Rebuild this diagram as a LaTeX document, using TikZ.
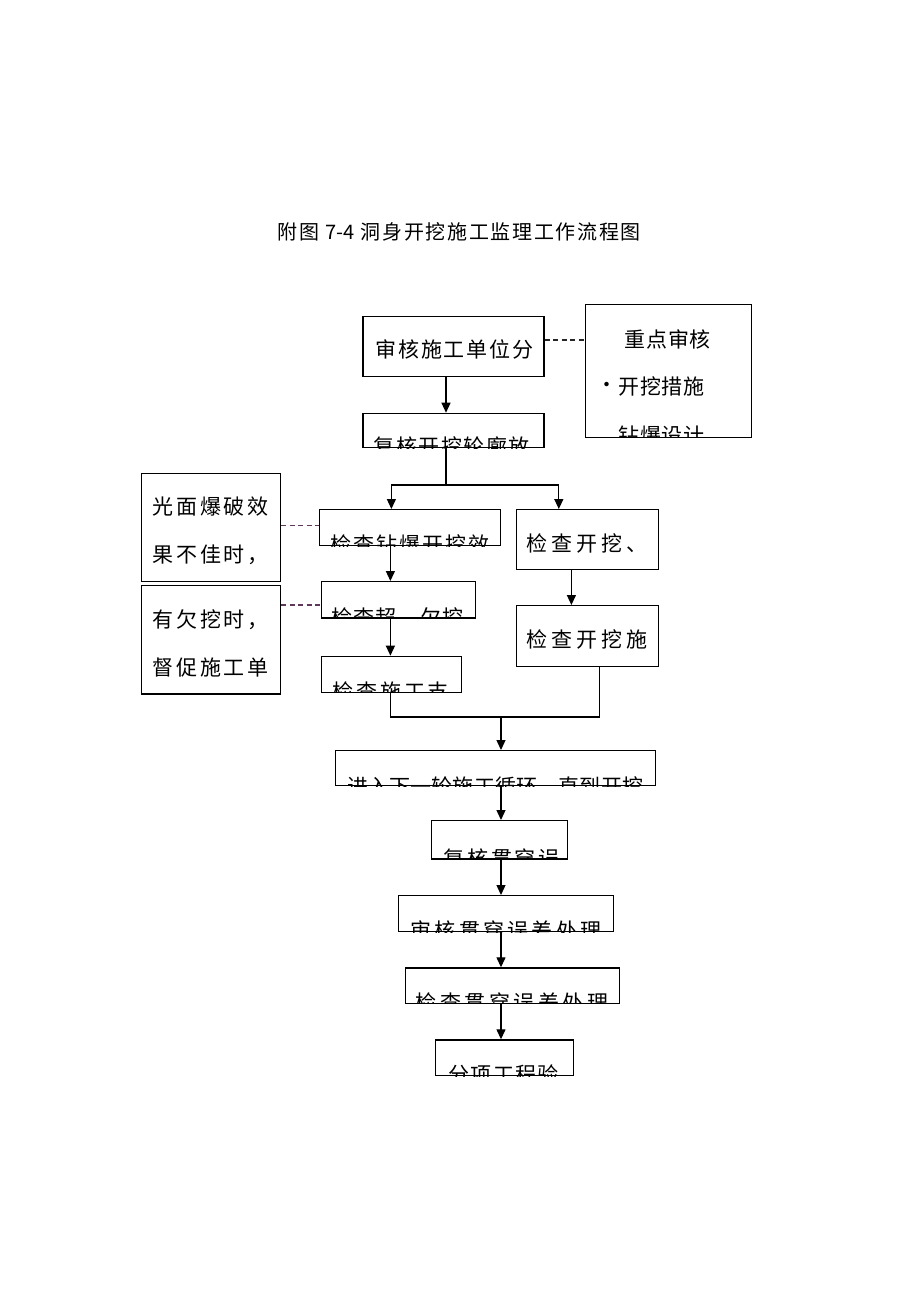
\documentclass[tikz,border=0pt]{standalone}
\usepackage{fontspec}
\newfontfamily\cjk{Noto Sans CJK SC}
\usetikzlibrary{arrows.meta}
\ExplSyntaxOn
\NewDocumentCommand\spr{mm}{\makebox[#1][s]{\bool_set_true:N \l_tmpa_bool \tl_map_inline:nn {#2}{\bool_if:NF \l_tmpa_bool {\hfil} \bool_set_false:N \l_tmpa_bool ##1}}}
\ExplSyntaxOff
\definecolor{dashpurple}{RGB}{95,55,90}
\tikzset{
  box/.style={draw=black, line width=1.2pt, rectangle, inner sep=0pt, anchor=north west},
  txt/.style={anchor=base west, inner sep=0pt, font=\cjk\fontsize{21}{21}\selectfont},
  ttl/.style={anchor=base west, inner sep=0pt, font=\cjk\fontsize{20}{20}\selectfont},
  arr/.style={line width=1.3pt, -{Triangle[length=10pt,width=9pt]}},
  ln/.style={line width=1.3pt},
  dsh/.style={line width=1.1pt, dash pattern=on 5pt off 3.5pt},
}
\begin{document}
\begin{tikzpicture}[x=1pt,y=-1pt]
\fill[white] (0,0) rectangle (920,1302);
\useasboundingbox (0,0) rectangle (920,1302);

% title
\node[ttl] (title) at (277.5,239.3) {\spr{363pt}{附图{\ 7-4\ }洞身开挖施工监理工作流程图}};

% boxes
\node[box, minimum width=181pt, minimum height=60.3pt] (A) at (362.3,315.7) {};
\node[box, minimum width=165.7pt, minimum height=132.7pt] (R) at (585,304) {};
\node[box, minimum width=181pt, minimum height=34.3pt] (B) at (362.3,412.7) {};
\node[box, minimum width=181.4pt, minimum height=36pt] (C) at (318.8,509) {};
\node[box, minimum width=142pt, minimum height=60pt] (D) at (516,509) {};
\node[box, minimum width=139.3pt, minimum height=108pt] (E) at (140.5,472.7) {};
\node[box, minimum width=153.6pt, minimum height=36.3pt] (F) at (321,581) {};
\node[box, minimum width=139.3pt, minimum height=108.3pt] (G) at (140.5,585) {};
\node[box, minimum width=139.5pt, minimum height=36pt] (H) at (321,655.7) {};
\node[box, minimum width=142pt, minimum height=60.7pt] (I) at (516,605) {};
\node[box, minimum width=320pt, minimum height=35pt] (J) at (335,750) {};
\node[box, minimum width=136.5pt, minimum height=38.3pt] (K) at (430.5,820) {};
\node[box, minimum width=214.5pt, minimum height=36pt] (L) at (398,895) {};
\node[box, minimum width=214pt, minimum height=35.4pt] (M) at (405,967.3) {};
\node[box, minimum width=138pt, minimum height=35.7pt] (N) at (435,1039.3) {};

% unclipped texts
\node[txt] (At) at (375.4,357) {\spr{157.6pt}{审核施工单位分}};
\node[txt] (R1) at (624.7,347.6) {\spr{86pt}{重点审核}};
\node[txt] (R2) at (618,394) {\spr{86.6pt}{开挖措施}};
\node[anchor=center, inner sep=0pt, font=\cjk\fontsize{21}{21}\selectfont] (Rdot) at (606.7,387) {·};
\node[txt] (Dt) at (526.7,551) {\spr{120.4pt}{检查开挖、}};
\node[txt] (It) at (526.7,647.6) {\spr{120.4pt}{检查开挖施}};
\node[txt] (E1) at (152.6,514.3) {\spr{115.5pt}{光面爆破效}};
\node[txt] (E2) at (152.6,562.6) {\spr{115.5pt}{果不佳时，}};
\node[txt] (G1) at (152.6,627.6) {\spr{115.5pt}{有欠挖时，}};
\node[txt] (G2) at (152.6,675) {\spr{115.5pt}{督促施工单}};

% clipped texts
\begin{scope}\clip (R.south west) rectangle (R.north east);
\node[txt] (R3) at (618,443) {\spr{86.6pt}{钻爆设计}};\end{scope}
\begin{scope}\clip (B.south west) rectangle (B.north east);
\node[txt] (Bt) at (373.7,454.8) {\spr{155.6pt}{复核开挖轮廓放}};\end{scope}
\begin{scope}\clip (C.south west) rectangle (C.north east);
\node[txt] (Ct) at (330.5,552.8) {\spr{158.7pt}{检查钻爆开挖效}};\end{scope}
\begin{scope}\clip (F.south west) rectangle (F.north east);
\node[txt] (Ft) at (331.5,625) {\spr{131.4pt}{检查超、欠挖}};\end{scope}
\begin{scope}\clip (H.south west) rectangle (H.north east);
\node[txt] (Ht) at (332.2,699.5) {\spr{116.6pt}{检查施工支}};\end{scope}
\begin{scope}\clip (J.south west) rectangle (J.north east);
\node[txt] (Jt) at (347,794.5) {\spr{296pt}{进入下一轮施工循环，直到开挖}};\end{scope}
\begin{scope}\clip (K.south west) rectangle (K.north east);
\node[txt] (Kt) at (443.7,866) {\spr{115.6pt}{复核贯穿误}};\end{scope}
\begin{scope}\clip (L.south west) rectangle (L.north east);
\node[txt] (Lt) at (410.4,938.8) {\spr{190.9pt}{审核贯穿误差处理}};\end{scope}
\begin{scope}\clip (M.south west) rectangle (M.north east);
\node[txt] (Mt) at (415.4,1010.5) {\spr{192.6pt}{检查贯穿误差处理}};\end{scope}
\begin{scope}\clip (N.south west) rectangle (N.north east);
\node[txt] (Nt) at (448.7,1082.8) {\spr{109.3pt}{分项工程验}};\end{scope}

% connectors
\coordinate (s1) at (446,0);
\coordinate (s2) at (390.4,0);
\coordinate (s3) at (571.4,0);
\coordinate (s4) at (501,0);
\coordinate (br) at (446,485);
\coordinate (bl) at (391.4,485);
\coordinate (brr) at (558.8,485);
\coordinate (m1) at (390.4,717);
\coordinate (m2) at (599.5,717);
\coordinate (m3) at (501,717);
\coordinate (d1) at (0,340);
\coordinate (d2) at (0,525.7);
\coordinate (d3) at (0,605);

\draw[arr] (A.south -| s1) -- (B.north -| s1);
\draw[ln] (B.south -| s1) -- (br);
\draw[ln] (bl) -- (brr);
\draw[arr] (bl) -- (C.north -| bl);
\draw[arr] (brr) -- (D.north -| brr);
\draw[arr] (C.south -| s2) -- (F.north -| s2);
\draw[arr] (F.south -| s2) -- (H.north -| s2);
\draw[arr] (D.south -| s3) -- (I.north -| s3);
\draw[ln] (H.south -| m1) -- (m1) -- (m2) -- (I.south -| m2);
\draw[arr] (m3) -- (J.north -| m3);
\draw[arr] (J.south -| s4) -- (K.north -| s4);
\draw[arr] (K.south -| s4) -- (L.north -| s4);
\draw[arr] (L.south -| s4) -- (M.north -| s4);
\draw[arr] (M.south -| s4) -- (N.north -| s4);

\draw[dsh, black!85] (A.east |- d1) -- (R.west |- d1);
\draw[dsh, dashpurple] (E.east |- d2) -- (C.west |- d2);
\draw[dsh, dashpurple] (G.east |- d3) -- (F.west |- d3);
\end{tikzpicture}
\end{document}
